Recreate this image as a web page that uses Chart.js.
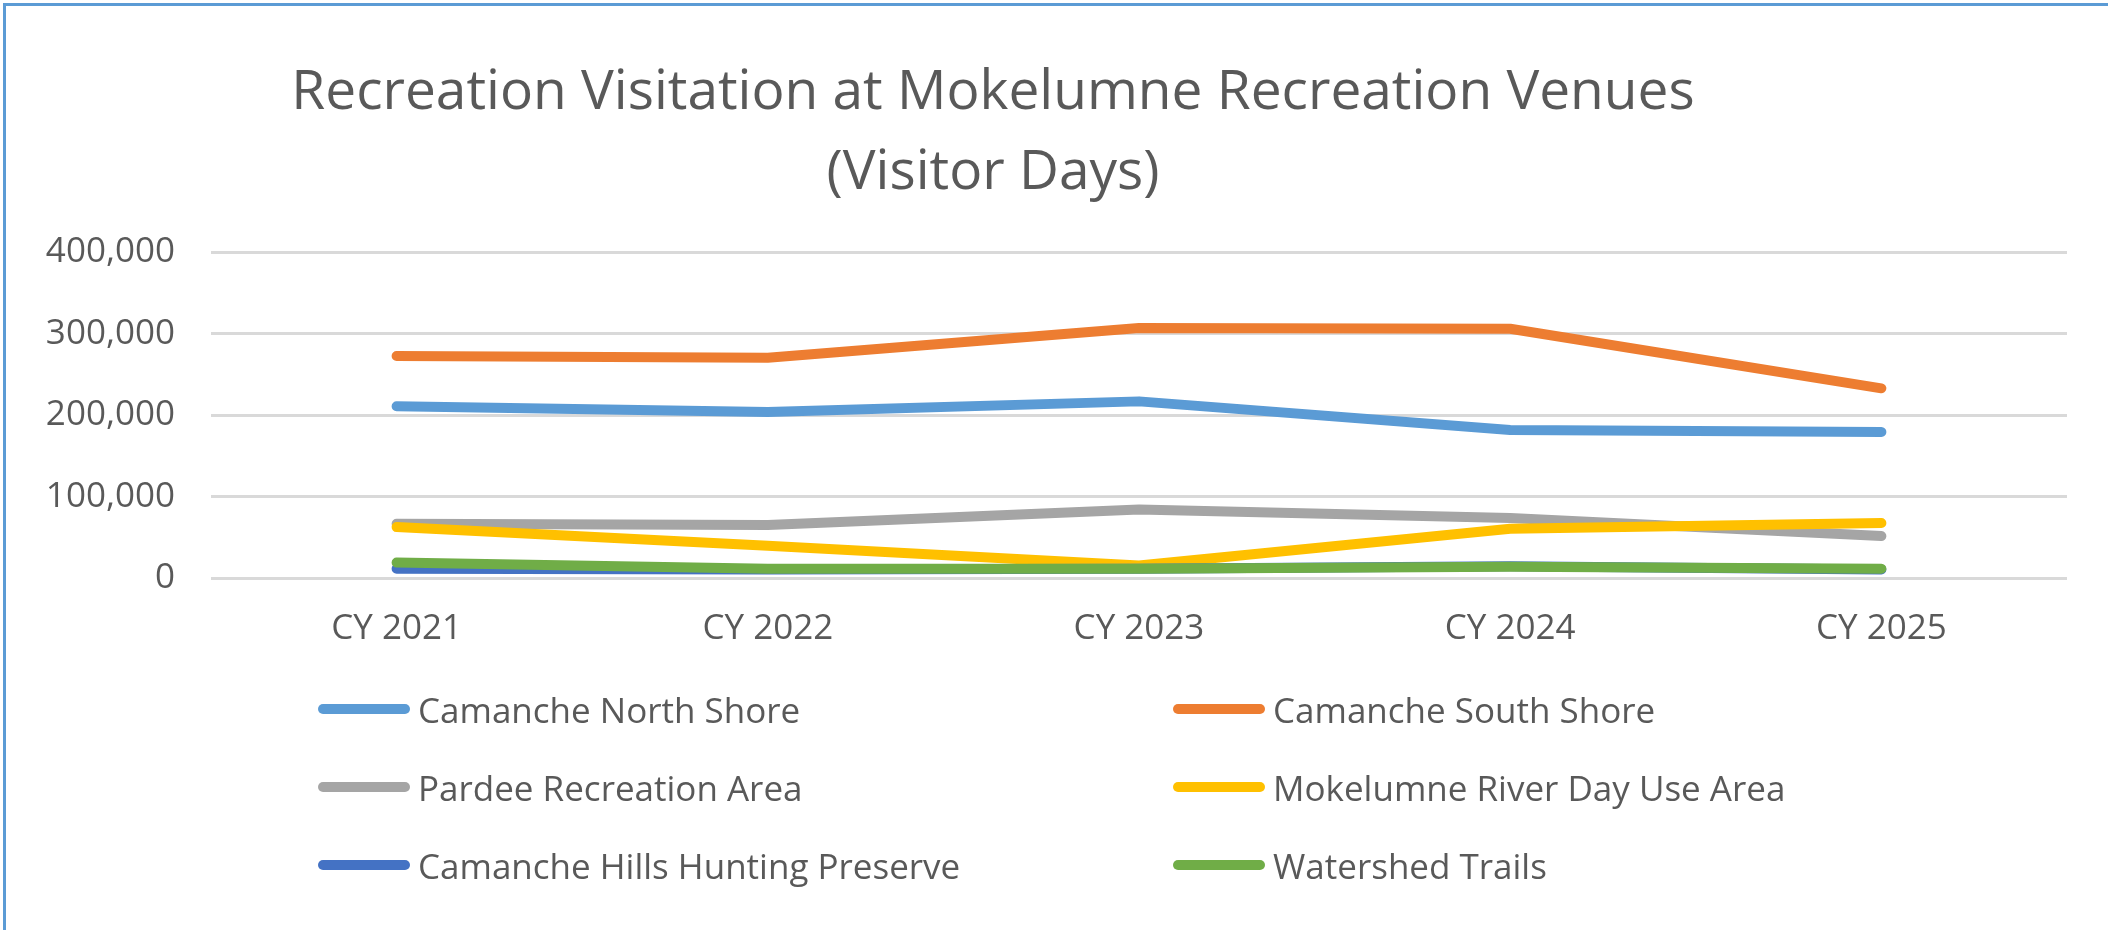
<!DOCTYPE html>
<html>
<head>
<meta charset="utf-8">
<script src="https://cdn.jsdelivr.net/npm/chart.js@4"></script>
<style>
  html, body { margin: 0; padding: 0; background: #fff; overflow: hidden; }
  #wrap { position: relative; width: 2108px; height: 930px; font-family: "Open Sans", sans-serif; color: #595959; }
  #frame { position: absolute; left: 3px; top: 3px; width: 2300px; height: 1100px; border-left: 3px solid #5b9bd5; border-top: 3px solid #5b9bd5; }
  #title { position: absolute; left: 0; top: 48px; width: 1986px; text-align: center; font-size: 55px; line-height: 80px; }
  #legend { position: absolute; left: 0; top: 0; }
  .item { position: absolute; height: 40px; display: flex; align-items: center; font-size: 35px; white-space: nowrap; }
  .swatch { display: inline-block; width: 92px; height: 10px; border-radius: 5px; margin-right: 8px; }
  canvas { position: absolute; left: 0; top: 0; }
</style>
</head>
<body>
<div id="wrap">
  <div id="frame"></div>
  <canvas id="visitChart" width="2108" height="930"></canvas>
  <div id="title">Recreation Visitation at Mokelumne Recreation Venues<br>(Visitor Days)</div>
  <div id="legend"></div>
</div>
<script>
const years = ['CY 2021', 'CY 2022', 'CY 2023', 'CY 2024', 'CY 2025'];

const northShore = [211000, 204000, 217000, 182000, 179500];
const southShore = [272500, 270500, 307000, 306000, 233000];
const pardee = [67000, 65500, 84500, 74000, 52000];
const riverDayUse = [63000, 40000, 16000, 61000, 68000];
const huntingPreserve = [12000, 11000, 12000, 15000, 11000];
const watershedTrails = [19500, 12000, 12000, 14500, 12000];

const seriesNames = [
  'Camanche North Shore', 'Camanche South Shore', 'Pardee Recreation Area',
  'Mokelumne River Day Use Area', 'Camanche Hills Hunting Preserve', 'Watershed Trails'
];
const seriesColors = ['#5b9bd5', '#ed7d31', '#a5a5a5', '#ffc000', '#4472c4', '#70ad47'];
const seriesValues = [northShore, southShore, pardee, riverDayUse, huntingPreserve, watershedTrails];

const datasets = seriesNames.map((name, i) => ({
  label: name,
  data: seriesValues[i],
  borderColor: seriesColors[i],
  backgroundColor: seriesColors[i],
  borderWidth: 10,
  borderCapStyle: 'round',
  borderJoinStyle: 'round',
  pointRadius: 0,
  tension: 0,
  order: seriesNames.length - i  // later series drawn on top, like Excel
}));

// two-column legend, built from the datasets
const legendEl = document.getElementById('legend');
const colX = [318, 1173];
const rowY = [709, 787, 865];
datasets.forEach((ds, i) => {
  const item = document.createElement('div');
  item.className = 'item';
  item.style.left = colX[i % 2] + 'px';
  item.style.top = (rowY[Math.floor(i / 2)] - 20) + 'px';
  const sw = document.createElement('span');
  sw.className = 'swatch';
  sw.style.background = ds.borderColor;
  item.appendChild(sw);
  item.appendChild(document.createTextNode(ds.label));
  legendEl.appendChild(item);
});

const tickFont = { family: '"Open Sans", sans-serif', size: 35 };

new Chart(document.getElementById('visitChart').getContext('2d'), {
  type: 'line',
  data: { labels: years, datasets: datasets },
  options: {
    responsive: false,
    animation: false,
    layout: { padding: { top: 252, right: 41, left: 0, bottom: 0 } },
    plugins: {
      legend: { display: false },
      title: { display: false },
      tooltip: { enabled: false }
    },
    scales: {
      x: {
        offset: true,
        grid: { display: false, drawTicks: false },
        border: { display: false },
        ticks: { color: '#595959', font: tickFont, padding: 30, maxRotation: 0 },
        afterFit: scale => { scale.height = 930 - 578.5; }
      },
      y: {
        min: 0,
        max: 400000,
        grid: { color: '#d9d9d9', lineWidth: 3, drawTicks: false },
        border: { display: false },
        ticks: {
          stepSize: 100000,
          color: '#595959',
          font: tickFont,
          padding: 36,
          callback: v => v.toLocaleString('en-US')
        },
        afterFit: scale => { scale.width = 211; }
      }
    }
  }
});
</script>
</body>
</html>
